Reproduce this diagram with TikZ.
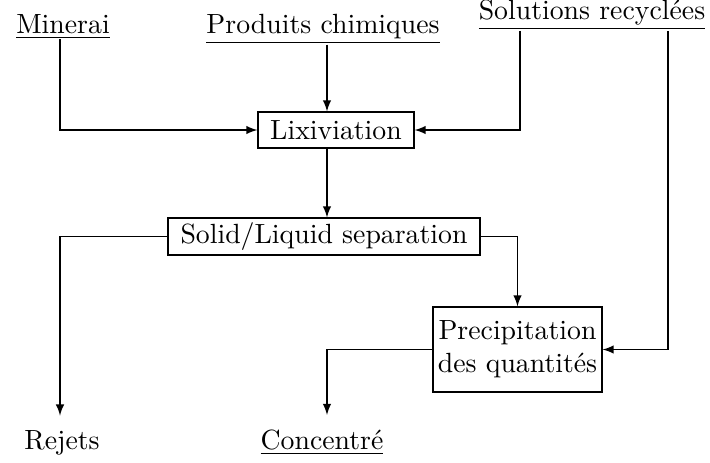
\documentclass[tikz,border=0pt]{standalone}
\usepackage{fontspec}
\newlength\pxunit
\setlength\pxunit{0.36pt}
\begin{document}
\begin{tikzpicture}[x=\pxunit,y=-\pxunit,
  box/.style={draw,inner sep=0pt,align=center},
  lbl/.style={inner sep=0pt,anchor=base},
  flow/.style={-latex},
  outflow/.style={-latex,shorten >=5pt}]
\useasboundingbox (0,0) rectangle (710,463);

% inputs
\node[lbl] (min) at (63,33) {\underline{Minerai}};
\node[lbl] (chem) at (323,33) {\underline{Produits chimiques}};
\node[lbl] (sol) at (592,19) {\underline{Solutions recycl\'ees}};

% process steps
\node[box,minimum width=156\pxunit,minimum height=36\pxunit] (lix) at (336,130) {Lixiviation};
\node[box,minimum width=312\pxunit,minimum height=37\pxunit] (sep) at (324,236.5) {Solid/Liquid separation};
\node[box,minimum width=169\pxunit,minimum height=85\pxunit] (pre) at (517.5,349.5) {Precipitation\\des quantit\'es};

% outputs
\node[lbl] (rej) at (62,449) {Rejets};
\node[lbl] (con) at (322,449) {\underline{Concentr\'e}};

% vertical line positions
\coordinate (xmin) at (60,0);
\coordinate (xmid) at (327,0);
\coordinate (xsolA) at (520,0);
\coordinate (xsolB) at (668,0);

\draw[flow] (min.south -| xmin) |- (lix.west);
\draw[flow] (chem.south -| xmid) -- (lix.north -| xmid);
\draw[flow] (sol.south -| xsolA) |- (lix.east);
\draw[flow] (sol.south -| xsolB) |- (pre.east);
\draw[flow] (lix.south -| xmid) -- (sep.north -| xmid);
\draw[flow] (sep.east) -| (pre.north);
\draw[outflow] (sep.west) -| (rej.north -| xmin);
\draw[outflow] (pre.west) -| (con.north -| xmid);
\end{tikzpicture}
\end{document}
